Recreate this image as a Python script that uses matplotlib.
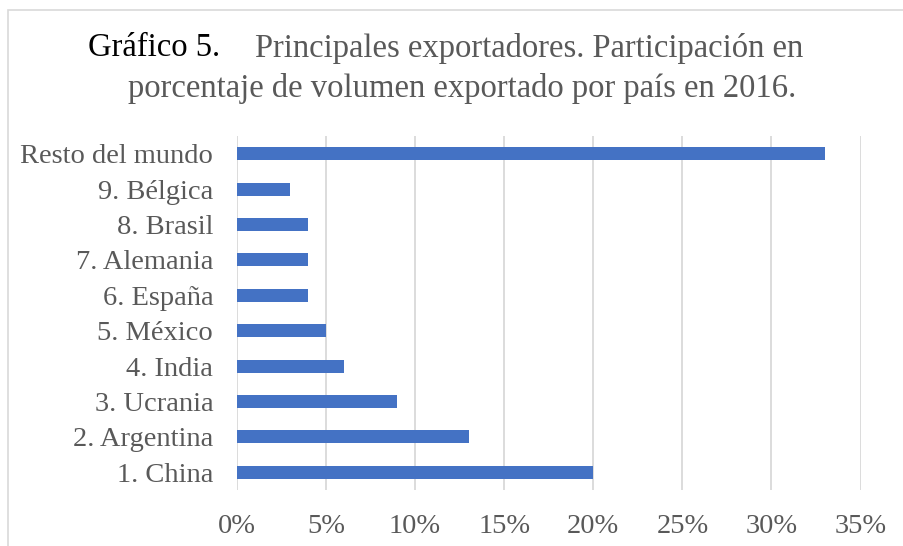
import matplotlib.pyplot as plt
from matplotlib.patches import Rectangle
from matplotlib.ticker import PercentFormatter

# data, bottom to top as drawn
paises = ['1. China', '2. Argentina', '3. Ucrania', '4. India', '5. México',
          '6. España', '7. Alemania', '8. Brasil', '9. Bélgica', 'Resto del mundo']
participacion = [20, 13, 9, 6, 5, 4, 4, 4, 3, 33]
ticks = [0, 5, 10, 15, 20, 25, 30, 35]

plt.rcParams['font.family'] = ['Liberation Serif', 'DejaVu Serif']

fig = plt.figure(figsize=(9.04, 5.46), dpi=100)
ax = fig.add_axes([0.262, 0.1026, 0.690, 0.6484])

# chart frame
fig.patches.append(Rectangle((8 / 904, -0.1), 1.2, 1 - 10 / 546 + 0.1,
                             transform=fig.transFigure, fill=False,
                             edgecolor='#D9D9D9', linewidth=1.2))

ax.barh(range(len(paises)), participacion, height=0.37, color='#4472C4', zorder=3)

ax.set_xlim(0, 35)
ax.set_ylim(-0.5, len(paises) - 0.5)
ax.set_xticks(ticks)
ax.xaxis.set_major_formatter(PercentFormatter(decimals=0))
ax.set_yticks(range(len(paises)))
ax.set_yticklabels(paises)
ax.grid(axis='x', color='#D9D9D9', linewidth=1.3, zorder=0)
for s in ax.spines.values():
    s.set_visible(False)
ax.tick_params(axis='both', length=0, labelsize=20.5, colors='#595959')
ax.tick_params(axis='y', pad=17)
ax.tick_params(axis='x', pad=17)

# title
fig.text(88 / 904, 1 - 48 / 546, 'Gráfico 5.', fontsize=23.5, color='black',
         ha='left', va='center')
fig.text(255 / 904, 1 - 48 / 546, 'Principales exportadores. Participación en',
         fontsize=23.5, color='#595959', ha='left', va='center')
fig.text(462 / 904, 1 - 89 / 546, 'porcentaje de volumen exportado por país en 2016.',
         fontsize=23.5, color='#595959', ha='center', va='center')

fig.savefig('out.png', dpi=100)
